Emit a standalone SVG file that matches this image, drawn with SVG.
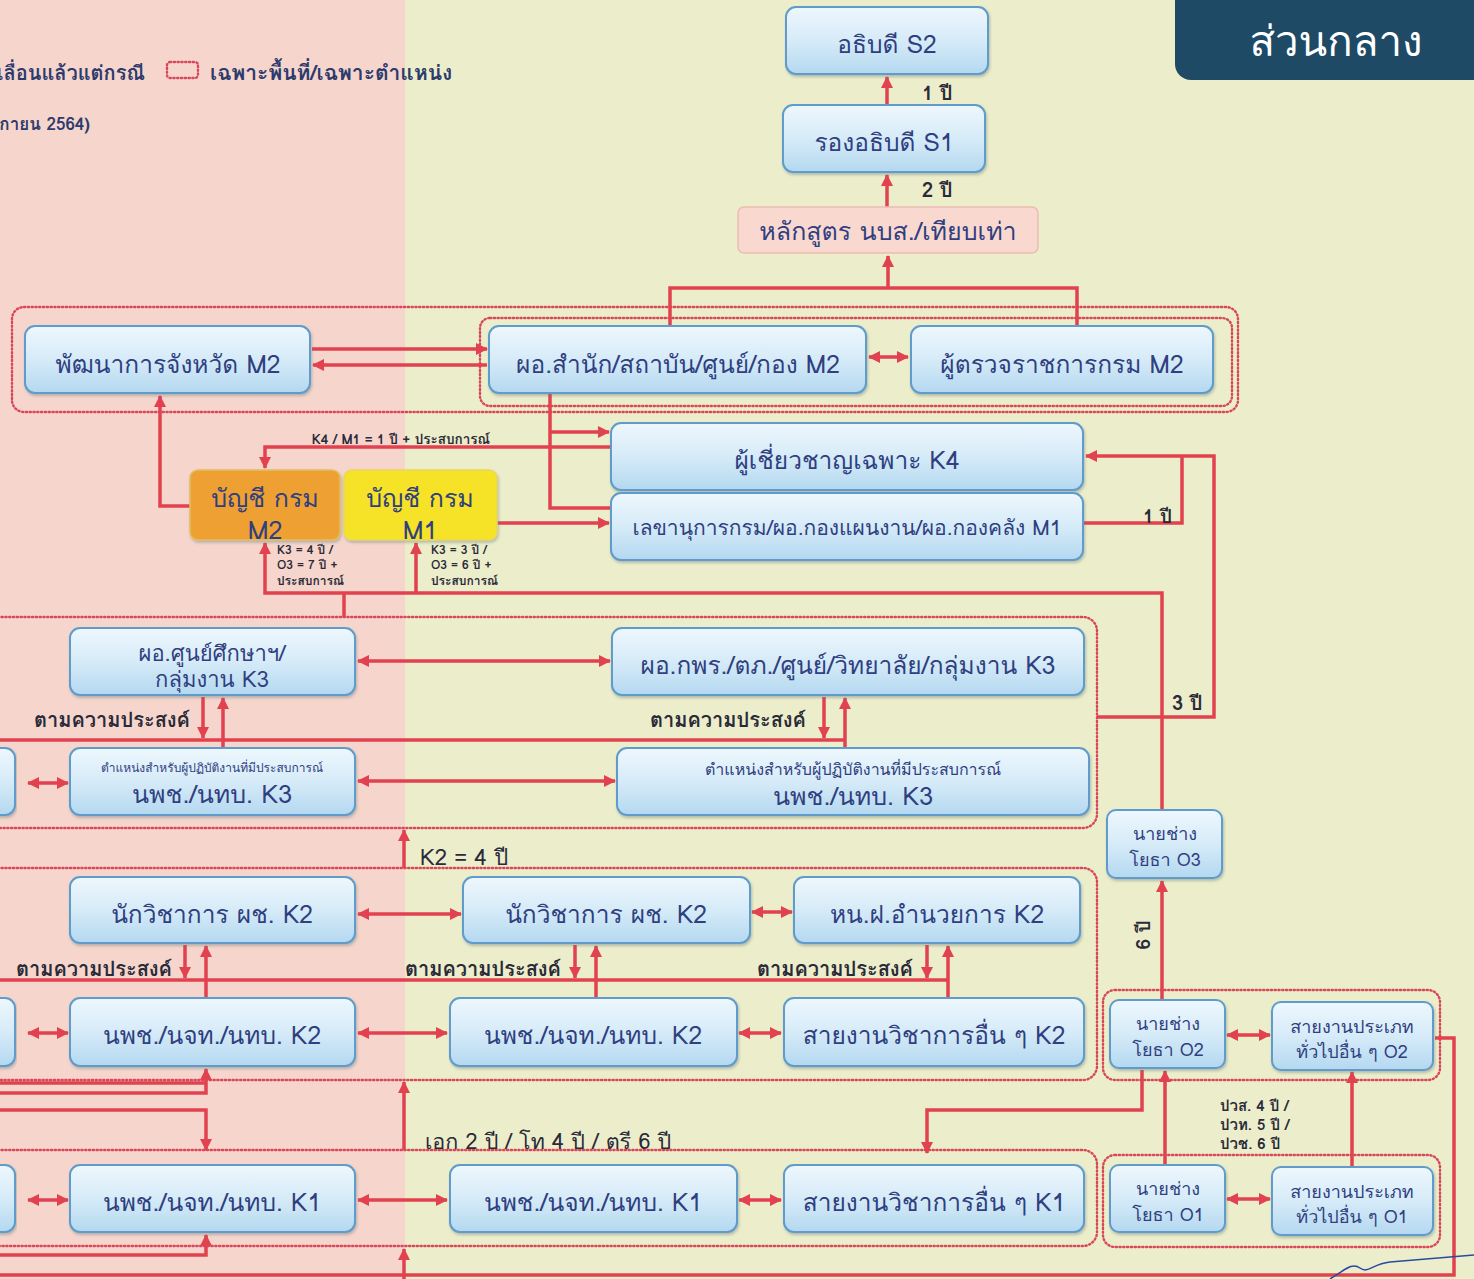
<svg xmlns="http://www.w3.org/2000/svg" width="1474" height="1279" viewBox="0 0 1474 1279">
<defs>
<linearGradient id="gb" x1="0" y1="0" x2="0" y2="1">
<stop offset="0" stop-color="#eef7fd"/>
<stop offset="0.5" stop-color="#d6ebf8"/>
<stop offset="1" stop-color="#b4d8f0"/>
</linearGradient>
<filter id="sh" x="-5%" y="-5%" width="110%" height="120%">
<feDropShadow dx="1" dy="2" stdDeviation="1.5" flood-color="#6a7a80" flood-opacity="0.45"/>
</filter>
<marker id="ah" viewBox="0 0 12 12" refX="11" refY="6" markerWidth="12" markerHeight="12" markerUnits="userSpaceOnUse" orient="auto-start-reverse">
<path d="M0,0 L12,6 L0,12 z" fill="#e2414f"/>
</marker>
</defs>
<style>
.bx{fill:url(#gb);stroke:#5e9ccb;stroke-width:2;filter:url(#sh)}
.t{font-family:"Loma","Garuda","Noto Sans Thai Looped","Tahoma","Noto Sans Thai","Noto Sans","DejaVu Sans",sans-serif;fill:#2f3f80;text-anchor:middle;font-size:24.5px}
.lb{font-family:"Loma","Garuda","Noto Sans Thai Looped","Tahoma","Noto Sans Thai","Noto Sans","DejaVu Sans",sans-serif;fill:#2a2a38;font-weight:bold}
.c{stroke:#e2414f;stroke-width:3.5;fill:none}
.a{marker-end:url(#ah)}
.d{marker-start:url(#ah);marker-end:url(#ah)}
.g{fill:none;stroke:#d9475a;stroke-width:2.4;stroke-dasharray:1.2 2.6;stroke-linecap:round}
</style>
<rect x="0" y="0" width="405" height="1279" fill="#f6d6cc"/>
<rect x="405" y="0" width="1069" height="1279" fill="#eceecb"/>

<g id="header">
<rect x="1175" y="-20" width="320" height="100" rx="16" fill="#1e4a66"/>
<text x="1336" y="56" class="t" style="fill:#ffffff;font-size:42px">ส่วนกลาง</text>
</g>

<g id="legend">
<text x="145" y="80" class="lb" style="font-size:20px;fill:#2d3b6c;text-anchor:end">เลื่อนแล้วแต่กรณี</text>
<rect x="167" y="62" width="31" height="16" rx="3" class="g"/>
<text x="210" y="80" class="lb" style="font-size:21px;fill:#2d3b6c">เฉพาะพื้นที่/เฉพาะตำแหน่ง</text>
<text x="90" y="130" class="lb" style="font-size:17px;fill:#2d3b6c;text-anchor:end">กายน 2564)</text>
</g>

<g id="groups">
<rect x="12" y="307" width="1226" height="105" rx="12" class="g"/>
<rect x="480" y="318" width="752" height="88" rx="10" class="g"/>
<rect x="-20" y="617" width="1117" height="211" rx="14" class="g"/>
<rect x="-20" y="868" width="1117" height="212" rx="14" class="g"/>
<rect x="-20" y="1150" width="1117" height="96" rx="14" class="g"/>
<rect x="1103" y="990" width="337" height="90" rx="12" class="g"/>
<rect x="1103" y="1155" width="337" height="92" rx="12" class="g"/>
</g>

<g id="connectors">
<path class="c a" d="M887,105 V77"/>
<path class="c a" d="M887,207 V175"/>
<path class="c" d="M670,325 V288 H1077 V325"/>
<path class="c a" d="M888,288 V256"/>
<path class="c a" d="M312,349 H487"/>
<path class="c a" d="M487,365 H313"/>
<path class="c d" d="M869,357 H908"/>
<path class="c" d="M550,393 V508 H611"/>
<path class="c a" d="M550,432 H609"/>
<path class="c a" d="M611,447 H265 V468"/>
<path class="c a" d="M497,523 H609"/>
<path class="c a" d="M190,506 H160 V396"/>
<path class="c a" d="M1162,810 V593 H265 V543"/>
<path class="c a" d="M416,593 V543"/>
<path class="c" d="M344,593 V617"/>
<path class="c a" d="M1097,717 H1214 V456 H1086"/>
<path class="c" d="M1083,523 H1182 V456"/>
<path class="c d" d="M358,661 H610"/>
<path class="c d" d="M358,781 H615"/>
<path class="c" d="M0,740 H845"/>
<path class="c a" d="M203,697 V738"/>
<path class="c a" d="M223,748 V698"/>
<path class="c a" d="M824,697 V738"/>
<path class="c a" d="M845,748 V698"/>
<path class="c d" d="M28,783 H68"/>
<path class="c a" d="M404,868 V830"/>
<path class="c d" d="M358,914 H461"/>
<path class="c d" d="M752,912 H792"/>
<path class="c" d="M0,980 H948"/>
<path class="c a" d="M185,945 V978"/>
<path class="c a" d="M206,997 V946"/>
<path class="c a" d="M575,945 V978"/>
<path class="c a" d="M596,997 V946"/>
<path class="c a" d="M927,945 V978"/>
<path class="c a" d="M948,997 V946"/>
<path class="c d" d="M28,1033 H68"/>
<path class="c d" d="M358,1033 H447"/>
<path class="c d" d="M739,1033 H781"/>
<path class="c a" d="M0,1093 H206 V1069"/>
<path class="c" d="M0,1083 H206"/>
<path class="c a" d="M0,1110 H206 V1150"/>
<path class="c a" d="M404,1150 V1082"/>
<path class="c d" d="M28,1200 H68"/>
<path class="c d" d="M358,1200 H447"/>
<path class="c d" d="M739,1200 H781"/>
<path class="c a" d="M0,1255 H206 V1235"/>
<path class="c a" d="M404,1279 V1249"/>
<path class="c a" d="M1142,1070 V1110 H927 V1153"/>
<path class="c a" d="M1165,1165 V1071"/>
<path class="c a" d="M1352,1167 V1072"/>
<path class="c a" d="M1162,1000 V881"/>
<path class="c d" d="M1227,1035 H1270"/>
<path class="c d" d="M1227,1199 H1270"/>
<path class="c" d="M1435,1038 H1454 V1275 H0"/>
</g>

<g id="labels">
<text x="922" y="100" class="lb" style="font-size:20px">1 ปี</text>
<text x="922" y="197" class="lb" style="font-size:20px">2 ปี</text>
<text x="401" y="444" class="lb" style="font-size:13.5px;text-anchor:middle">K4 / M1 = 1 ปี + ประสบการณ์</text>
<text x="277" y="554" class="lb" style="font-size:12px">K3 = 4 ปี /</text>
<text x="277" y="569" class="lb" style="font-size:12px">O3 = 7 ปี +</text>
<text x="277" y="585" class="lb" style="font-size:12px">ประสบการณ์</text>
<text x="431" y="554" class="lb" style="font-size:12px">K3 = 3 ปี /</text>
<text x="431" y="569" class="lb" style="font-size:12px">O3 = 6 ปี +</text>
<text x="431" y="585" class="lb" style="font-size:12px">ประสบการณ์</text>
<text x="1143" y="523" class="lb" style="font-size:19px">1 ปี</text>
<text x="1172" y="710" class="lb" style="font-size:20px">3 ปี</text>
<text x="190" y="727" class="lb" style="font-size:20px;text-anchor:end">ตามความประสงค์</text>
<text x="806" y="727" class="lb" style="font-size:20px;text-anchor:end">ตามความประสงค์</text>
<text x="420" y="865" class="lb" style="font-size:22px;font-weight:normal">K2 = 4 ปี</text>
<text x="172" y="976" class="lb" style="font-size:20px;text-anchor:end">ตามความประสงค์</text>
<text x="561" y="976" class="lb" style="font-size:20px;text-anchor:end">ตามความประสงค์</text>
<text x="913" y="976" class="lb" style="font-size:20px;text-anchor:end">ตามความประสงค์</text>
<text x="1157" y="942" class="lb" style="font-size:19px;text-anchor:middle" transform="rotate(-90 1150 942)">6 ปี</text>
<text x="425" y="1149" class="lb" style="font-size:21.5px;font-weight:normal">เอก 2 ปี / โท 4 ปี / ตรี 6 ปี</text>
<text x="1220" y="1111" class="lb" style="font-size:15px">ปวส. 4 ปี /</text>
<text x="1220" y="1130" class="lb" style="font-size:15px">ปวท. 5 ปี /</text>
<text x="1220" y="1149" class="lb" style="font-size:15px">ปวช. 6 ปี</text>
</g>

<g id="n-s2"><rect x="786" y="7" width="202" height="67" rx="10" class="bx"/><text x="887" y="53" class="t">อธิบดี S2</text></g>
<g id="n-s1"><rect x="783" y="105" width="202" height="67" rx="10" class="bx"/><text x="884" y="151" class="t">รองอธิบดี S1</text></g>
<g id="n-nbs"><rect x="738" y="207" width="300" height="46" rx="6" fill="#f9d8cf" stroke="#ebbcb2" stroke-width="1.5"/><text x="888" y="240" class="t" style="font-size:25px">หลักสูตร นบส./เทียบเท่า</text></g>

<g id="n-pattana"><rect x="25" y="326" width="285" height="67" rx="10" class="bx"/><text x="168" y="373" class="t">พัฒนาการจังหวัด M2</text></g>
<g id="n-por-samnak"><rect x="489" y="326" width="377" height="67" rx="10" class="bx"/><text x="678" y="373" class="t">ผอ.สำนัก/สถาบัน/ศูนย์/กอง M2</text></g>
<g id="n-inspector"><rect x="911" y="326" width="302" height="67" rx="10" class="bx"/><text x="1062" y="373" class="t">ผู้ตรวจราชการกรม M2</text></g>

<g id="n-k4"><rect x="611" y="423" width="472" height="67" rx="10" class="bx"/><text x="847" y="469" class="t">ผู้เชี่ยวชาญเฉพาะ K4</text></g>
<g id="n-m1"><rect x="611" y="493" width="472" height="67" rx="10" class="bx"/><text x="847" y="535" class="t" style="font-size:21px">เลขานุการกรม/ผอ.กองแผนงาน/ผอ.กองคลัง M1</text></g>

<g id="n-list-m2"><rect x="190" y="470" width="150" height="70" rx="8" fill="#eea032" stroke="#e0c060" stroke-width="1.5" filter="url(#sh)"/><text x="265" y="507" class="t" style="font-size:25px">บัญชี กรม</text><text x="265" y="539" class="t" style="font-size:25px">M2</text></g>
<g id="n-list-m1"><rect x="344" y="470" width="153" height="70" rx="8" fill="#f6e226" stroke="#e8d860" stroke-width="1.5" filter="url(#sh)"/><text x="420" y="507" class="t" style="font-size:25px">บัญชี กรม</text><text x="420" y="539" class="t" style="font-size:25px">M1</text></g>

<g id="n-k3-center"><rect x="70" y="628" width="285" height="67" rx="10" class="bx"/><text x="212" y="661" class="t" style="font-size:22px">ผอ.ศูนย์ศึกษาฯ/</text><text x="212" y="687" class="t" style="font-size:22px">กลุ่มงาน K3</text></g>
<g id="n-k3-director"><rect x="612" y="628" width="472" height="67" rx="10" class="bx"/><text x="848" y="674" class="t">ผอ.กพร./ตภ./ศูนย์/วิทยาลัย/กลุ่มงาน K3</text></g>
<g id="n-k3-left-cut"><rect x="-20" y="748" width="35" height="67" rx="10" class="bx"/></g>
<g id="n-k3-exp-a"><rect x="70" y="748" width="285" height="67" rx="10" class="bx"/><text x="212" y="772" class="t" style="font-size:12px">ตำแหน่งสำหรับผู้ปฏิบัติงานที่มีประสบการณ์</text><text x="212" y="803" class="t" style="font-size:25px">นพช./นทบ. K3</text></g>
<g id="n-k3-exp-b"><rect x="617" y="748" width="472" height="67" rx="10" class="bx"/><text x="853" y="775" class="t" style="font-size:16px">ตำแหน่งสำหรับผู้ปฏิบัติงานที่มีประสบการณ์</text><text x="853" y="805" class="t" style="font-size:25px">นพช./นทบ. K3</text></g>

<g id="n-k2-acad-a"><rect x="70" y="877" width="285" height="66" rx="10" class="bx"/><text x="212" y="923" class="t">นักวิชาการ ผช. K2</text></g>
<g id="n-k2-acad-b"><rect x="463" y="877" width="287" height="66" rx="10" class="bx"/><text x="606" y="923" class="t">นักวิชาการ ผช. K2</text></g>
<g id="n-k2-admin"><rect x="794" y="877" width="286" height="66" rx="10" class="bx"/><text x="937" y="923" class="t">หน.ฝ.อำนวยการ K2</text></g>
<g id="n-k2-left-cut"><rect x="-20" y="998" width="35" height="68" rx="10" class="bx"/></g>
<g id="n-k2-npc-a"><rect x="70" y="998" width="285" height="68" rx="10" class="bx"/><text x="212" y="1044" class="t">นพช./นจท./นทบ. K2</text></g>
<g id="n-k2-npc-b"><rect x="450" y="998" width="287" height="68" rx="10" class="bx"/><text x="593" y="1044" class="t">นพช./นจท./นทบ. K2</text></g>
<g id="n-k2-other"><rect x="784" y="998" width="300" height="68" rx="10" class="bx"/><text x="934" y="1044" class="t">สายงานวิชาการอื่น ๆ K2</text></g>

<g id="n-k1-left-cut"><rect x="-20" y="1165" width="35" height="67" rx="10" class="bx"/></g>
<g id="n-k1-npc-a"><rect x="70" y="1165" width="285" height="67" rx="10" class="bx"/><text x="212" y="1211" class="t">นพช./นจท./นทบ. K1</text></g>
<g id="n-k1-npc-b"><rect x="450" y="1165" width="287" height="67" rx="10" class="bx"/><text x="593" y="1211" class="t">นพช./นจท./นทบ. K1</text></g>
<g id="n-k1-other"><rect x="784" y="1165" width="300" height="67" rx="10" class="bx"/><text x="934" y="1211" class="t">สายงานวิชาการอื่น ๆ K1</text></g>

<g id="n-o3"><rect x="1107" y="810" width="115" height="68" rx="9" class="bx"/><text x="1165" y="840" class="t" style="font-size:18px">นายช่าง</text><text x="1165" y="866" class="t" style="font-size:18px">โยธา O3</text></g>
<g id="n-o2-civil"><rect x="1110" y="1000" width="115" height="68" rx="9" class="bx"/><text x="1168" y="1030" class="t" style="font-size:18px">นายช่าง</text><text x="1168" y="1056" class="t" style="font-size:18px">โยธา O2</text></g>
<g id="n-o2-general"><rect x="1272" y="1002" width="161" height="68" rx="9" class="bx"/><text x="1352" y="1033" class="t" style="font-size:18px">สายงานประเภท</text><text x="1352" y="1058" class="t" style="font-size:18px">ทั่วไปอื่น ๆ O2</text></g>
<g id="n-o1-civil"><rect x="1110" y="1165" width="115" height="67" rx="9" class="bx"/><text x="1168" y="1195" class="t" style="font-size:18px">นายช่าง</text><text x="1168" y="1221" class="t" style="font-size:18px">โยธา O1</text></g>
<g id="n-o1-general"><rect x="1272" y="1167" width="161" height="68" rx="9" class="bx"/><text x="1352" y="1198" class="t" style="font-size:18px">สายงานประเภท</text><text x="1352" y="1223" class="t" style="font-size:18px">ทั่วไปอื่น ๆ O1</text></g>

<path d="M1330,1279 C1345,1270 1352,1262 1360,1268 C1368,1274 1372,1264 1390,1262 L1474,1255" fill="none" stroke="#2a4aa0" stroke-width="1.5"/>
</svg>
